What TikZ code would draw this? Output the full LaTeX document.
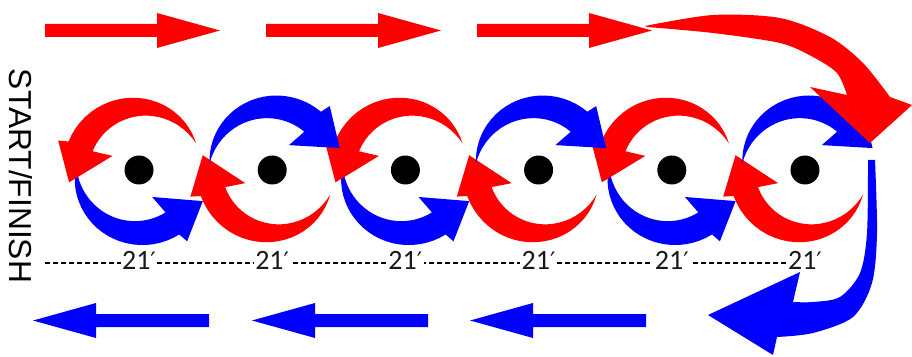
\documentclass[tikz,border=0pt]{standalone}
\usepackage{fontspec}
\setmainfont{Liberation Sans}
\newfontfamily\distfont{Carlito}
\newfontfamily\primefont{DejaVu Sans}

% tapered curved arrow round a cone:
% #1 cone, #2 tail angle, #3 head angle, #4 turn (1 or -1), #5 colour
\newcommand{\swirl}[5]{%
  \fill[#5, shift={(#1)}]
    plot[domain=0:1, samples=25, variable=\u] ({#2+(#3-#2)*\u}:{63+13*sin(90*\u)})
    -- ({#3+2*(#4)}:86) -- ({#3+32*(#4)}:71) -- ({#3-6*(#4)}:30)
    -- plot[domain=1:0, samples=25, variable=\u] ({#2+(#3-#2)*\u}:{63-13*sin(90*\u)})
    -- cycle;}

\begin{document}
\begin{tikzpicture}[x=1pt, y=1pt,
    dist/.style={font=\distfont\fontsize{28}{30}\selectfont, text=black!90, fill=white, inner sep=1.5pt, anchor=base},
    course/.style={dashed, dash pattern=on 5pt off 3pt, line width=1.2pt}]
  \useasboundingbox (0,0) rectangle (912,356);

  % Cones
  \foreach \i in {1,...,6}
    \coordinate (d\i) at ({139+133.2*(\i-1)},186);

  % Distances
  \draw[course] (45,93) -- (795,93);
  \foreach \i in {1,...,6}
    \node[dist] (l\i) at ([yshift=-100pt]d\i) {21{\primefont\fontsize{24}{26}\selectfont ′}};

  % Loops round the cones
  \foreach \i in {1,3,5} {
    \swirl{d\i}{176}{302}{1}{blue}
    \swirl{d\i}{25}{158}{1}{red}
  }
  \foreach \i in {2,4,6} {
    \swirl{d\i}{337}{200}{-1}{red}
    \swirl{d\i}{174}{50}{-1}{blue}
  }
  \foreach \i in {1,...,6}
    \fill (d\i) circle (14.5);

  % Straight runs
  \foreach \x in {45,266,477}
    \fill[red] (\x,319) -- ++(112,0) -- ++(0,-11) -- ++(63,17.5) -- ++(-63,17.5)
      -- ++(0,-11) -- ++(-112,0) -- cycle;
  \foreach \x in {33,252,470}
    \fill[blue] (\x,35.5) -- ++(63,17.5) -- ++(0,-11) -- ++(113,0) -- ++(0,-13)
      -- ++(-113,0) -- ++(0,-11) -- cycle;

  % Turns at the end
  \fill[red] plot[smooth] coordinates {(645,330) (713,341) (780,338) (830,319) (863,293) (890,259)}
    -- (912,251) -- (870,213) -- (810,269)
    -- plot[smooth] coordinates {(847,261) (837,283) (813,299) (780,313) (713,323) (647,329)} -- cycle;
  \fill[blue] plot[smooth] coordinates {(875,196) (877,123) (872,73) (853,39) (813,23) (777,19)}
    -- (773,1) -- (708,41) -- (800,84)
    -- plot[smooth] coordinates {(793,54) (813,54) (840,59) (860,83) (867,123) (868,196)} -- cycle;

  % Start
  \node[rotate=-90, font=\fontsize{31.75}{34}\selectfont] (sf) at (21,180) {START/FINISH};
\end{tikzpicture}
\end{document}
